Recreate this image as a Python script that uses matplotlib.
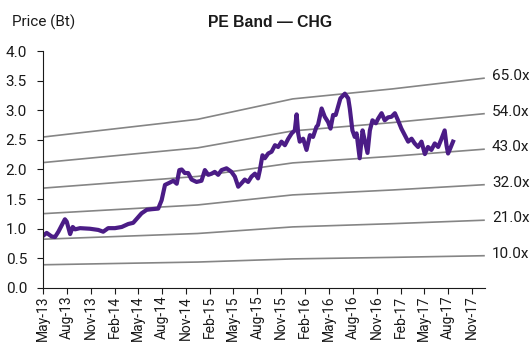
import matplotlib

matplotlib.use("Agg")

import matplotlib.dates as mdates
import matplotlib.pyplot as plt
import pandas as pd

C_PRICE = "#4b1c86"
C_BAND = "#858585"
C_INK = "#1a1a1a"

plt.rcParams["font.family"] = ["Roboto", "DejaVu Sans"]

# share price (Bt)
price_dates = [
    "2013-05-01", "2013-05-15", "2013-06-03", "2013-06-16", "2013-06-29", "2013-07-12",
    "2013-07-24", "2013-07-31", "2013-08-13", "2013-08-23", "2013-09-01", "2013-09-20",
    "2013-10-28", "2013-11-29", "2013-12-18", "2014-01-06", "2014-02-01", "2014-02-27",
    "2014-03-24", "2014-04-12", "2014-04-28", "2014-05-14", "2014-06-03", "2014-06-22",
    "2014-07-17", "2014-07-30", "2014-08-12", "2014-08-31", "2014-09-13", "2014-09-26",
    "2014-10-06", "2014-10-15", "2014-10-27", "2014-11-09", "2014-11-22", "2014-12-11",
    "2014-12-30", "2015-01-12", "2015-01-25", "2015-02-07", "2015-02-19", "2015-03-04",
    "2015-03-17", "2015-04-05", "2015-04-24", "2015-05-07", "2015-05-20", "2015-06-02",
    "2015-06-14", "2015-06-27", "2015-07-10", "2015-07-23", "2015-08-04", "2015-08-11",
    "2015-08-21", "2015-08-30", "2015-09-12", "2015-09-25", "2015-10-08", "2015-10-20",
    "2015-11-02", "2015-11-15", "2015-11-28", "2015-12-11", "2015-12-23", "2015-12-30",
    "2016-01-05", "2016-01-11", "2016-01-24", "2016-02-06", "2016-02-19", "2016-03-02",
    "2016-03-15", "2016-03-21", "2016-04-04", "2016-04-16", "2016-04-29", "2016-05-08",
    "2016-05-18", "2016-05-28", "2016-06-06", "2016-06-15", "2016-07-02", "2016-07-15",
    "2016-07-21", "2016-07-31", "2016-08-09", "2016-08-16", "2016-08-28", "2016-09-08",
    "2016-09-16", "2016-09-27", "2016-10-06", "2016-10-16", "2016-10-29", "2016-11-07",
    "2016-11-20", "2016-12-02", "2016-12-15", "2016-12-28", "2017-01-10", "2017-01-22",
    "2017-02-04", "2017-02-17", "2017-03-02", "2017-03-15", "2017-03-27", "2017-04-09",
    "2017-04-22", "2017-05-05", "2017-05-17", "2017-05-30", "2017-06-12", "2017-06-25",
    "2017-07-08", "2017-07-20", "2017-07-27", "2017-08-02", "2017-08-08", "2017-08-21",
]
price = [
    0.88, 0.93, 0.87, 0.86, 0.95, 1.06,
    1.16, 1.12, 0.91, 1.03, 0.99, 1.01,
    1.00, 0.98, 0.95, 1.01, 1.01, 1.03,
    1.08, 1.10, 1.18, 1.26, 1.32, 1.33,
    1.34, 1.48, 1.74, 1.78, 1.81, 1.76,
    1.99, 2.00, 1.94, 1.94, 1.83, 1.79,
    1.81, 1.99, 1.91, 1.93, 1.96, 1.91,
    1.99, 2.02, 1.96, 1.88, 1.71, 1.77,
    1.83, 1.79, 1.88, 1.93, 1.85, 1.99,
    2.24, 2.19, 2.27, 2.30, 2.41, 2.38,
    2.47, 2.41, 2.52, 2.61, 2.66, 2.93,
    2.61, 2.47, 2.52, 2.33, 2.58, 2.55,
    2.72, 2.75, 3.03, 2.89, 2.80, 2.69,
    2.92, 2.92, 3.06, 3.20, 3.28, 3.20,
    3.03, 2.66, 2.55, 2.61, 2.19, 2.66,
    2.50, 2.28, 2.66, 2.83, 2.78, 2.86,
    2.95, 2.83, 2.88, 2.89, 2.95, 2.83,
    2.69, 2.58, 2.47, 2.52, 2.44, 2.38,
    2.47, 2.26, 2.38, 2.33, 2.44, 2.38,
    2.52, 2.66, 2.41, 2.27, 2.33, 2.47,
]

# EPS path behind the PE bands
eps_dates = ["2013-05-01", "2014-12-15", "2015-12-15", "2017-01-01", "2017-12-21"]
eps = [0.0392, 0.0438, 0.0491, 0.0517, 0.0545]
pe_multiples = [10.0, 21.0, 32.0, 43.0, 54.0, 65.0]

tick_dates = pd.date_range("2013-05-01", "2017-11-01", freq="3MS")

px = pd.to_datetime(price_dates)
ex = pd.to_datetime(eps_dates)

fig = plt.figure(figsize=(5.31, 3.51), dpi=100)
ax = fig.add_axes([0.081, 0.1795, 0.832, 0.6752])

for pe in pe_multiples:
    band = [pe * e for e in eps]
    ax.plot(ex, band, color=C_BAND, lw=1.2, solid_capstyle="butt")
    ax.text(1.016, band[-1] + 0.03, f"{pe:.1f}x", transform=ax.get_yaxis_transform(),
            ha="left", va="center", fontsize=11, color=C_INK, clip_on=False)

ax.plot(px, price, color=C_PRICE, lw=3.0, solid_joinstyle="round")

ax.set_xlim(ex[0], ex[-1])
ax.set_ylim(0, 4.0)
ax.set_yticks([i * 0.5 for i in range(9)])
ax.yaxis.set_major_formatter(matplotlib.ticker.FormatStrFormatter("%.1f"))
ax.set_xticks(tick_dates)
ax.xaxis.set_major_formatter(mdates.DateFormatter("%b-%y"))
ax.tick_params(axis="x", labelrotation=90, labelsize=10, length=4, pad=1.5, color=C_INK)
ax.tick_params(axis="y", labelsize=11, length=4.5, pad=7, color=C_INK)
for lab in ax.get_xticklabels():
    lab.set_color(C_INK)
for lab in ax.get_yticklabels():
    lab.set_color(C_INK)

for side in ("top", "right"):
    ax.spines[side].set_visible(False)
for side in ("left", "bottom"):
    ax.spines[side].set_color(C_INK)
    ax.spines[side].set_linewidth(0.8)

fig.text(0.022, 0.937, "Price (Bt)", fontsize=11, color=C_INK, ha="left", va="center")
fig.text(0.508, 0.937, "PE Band \u2014 CHG", fontsize=11.3, fontweight="bold",
         family=["Liberation Sans", "DejaVu Sans"], color=C_INK, ha="center", va="center")

fig.savefig("out.png", dpi=100)
